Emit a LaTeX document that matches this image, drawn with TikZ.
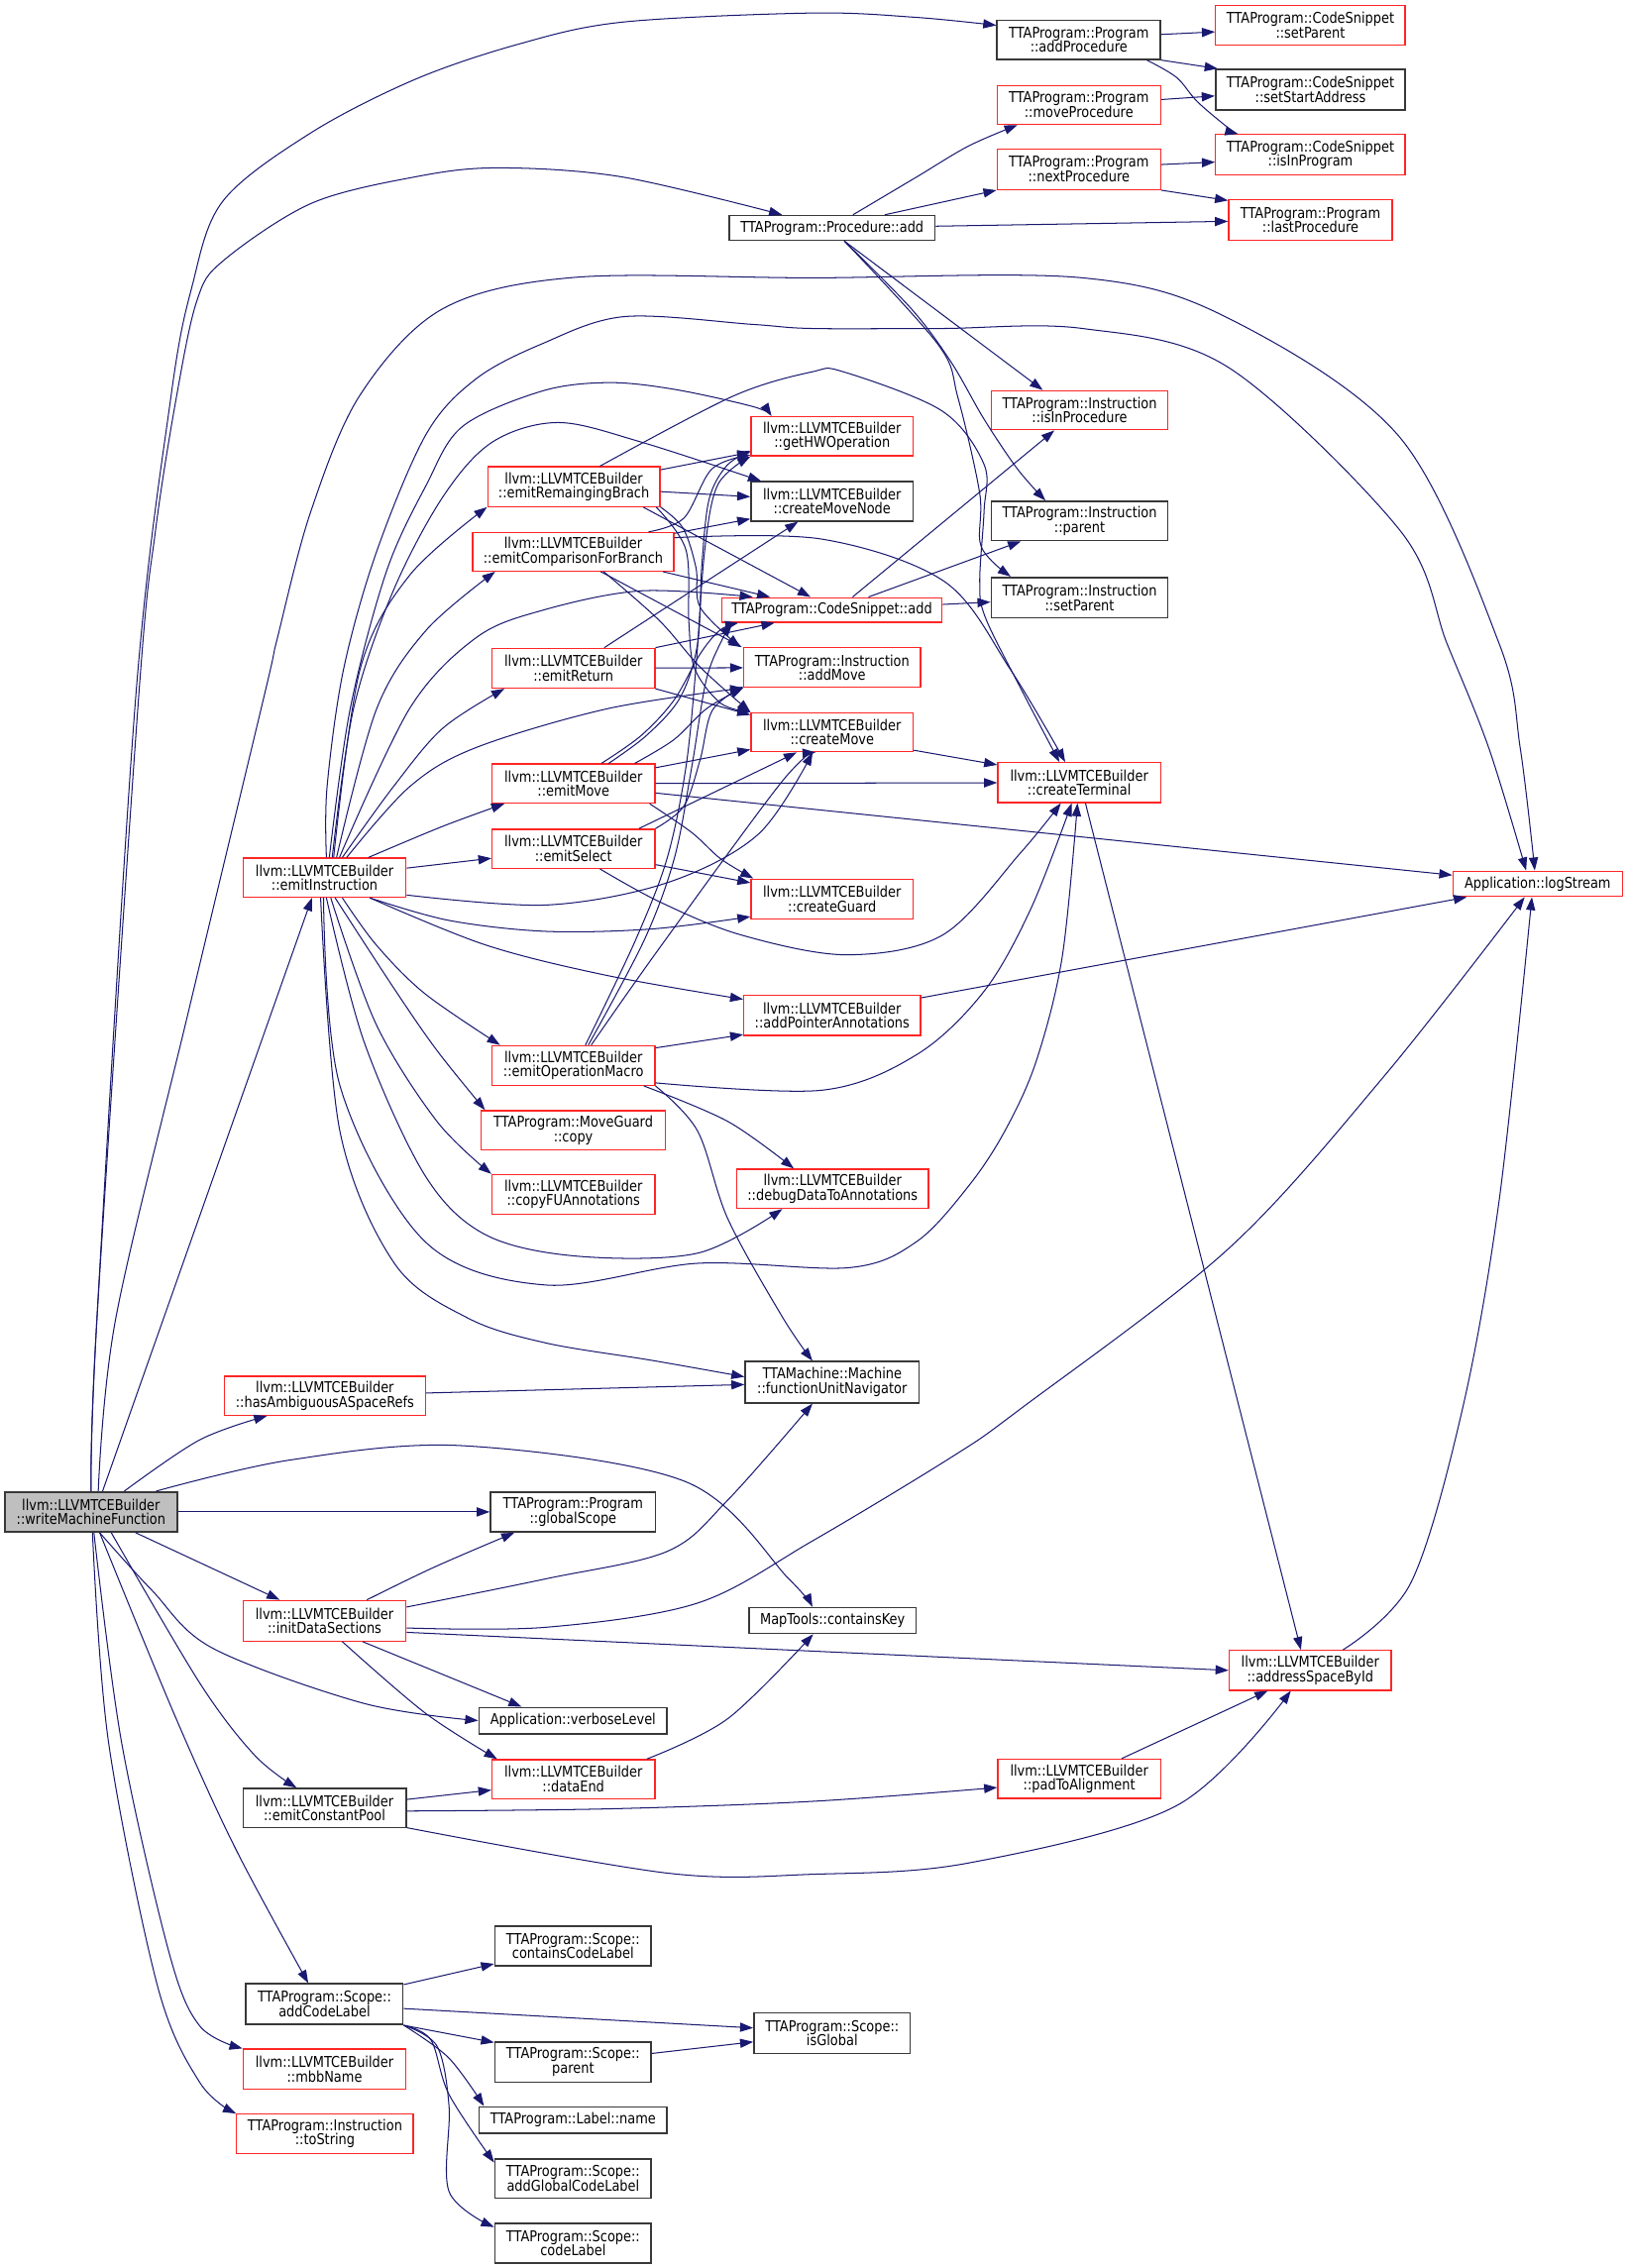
\documentclass[tikz,border=0pt]{standalone}
\usepackage{fontspec}
\newfontfamily\dejafam{DejaVu Sans}[FakeStretch=0.86]
\newcommand\boxfont{\dejafam\fontsize{10.3}{10}\selectfont}
\usetikzlibrary{arrows.meta}
\definecolor{edgeblue}{HTML}{191970}
\definecolor{boxred}{HTML}{FF2626}
\definecolor{boxgray}{HTML}{383838}
\definecolor{wfill}{HTML}{BFBFBF}
\tikzset{
  box/.style={draw, rectangle, inner sep=0pt, align=center, font=\boxfont},
  rbox/.style={box, draw=boxred, line width=0.9pt},
  kbox/.style={box, draw=boxgray, line width=1.15pt},
  wbox/.style={box, draw=boxgray, line width=1.15pt, fill=wfill},
  edg/.style={draw=edgeblue, line width=0.7pt, -{Triangle[length=9pt,width=6.3pt]}},
}
\newcommand\mkbox[7]{\node[#2, minimum width={(#4-#3)*1pt}, minimum height={(#6-#5)*1pt}] (#1) at ({(#3+#4)/2},{(#5+#6)/2}) {#7};}
\newcommand\crv[1]{\draw[edg] plot[smooth, tension=0.55] coordinates {#1};}
\begin{document}
\begin{tikzpicture}[x=1pt,y=-1pt]
\fill[white] (0,0) rectangle (1125,1567.3);
\path[use as bounding box] (0,0) rectangle (1125,1567.3);
% ---------- nodes ----------
\mkbox{nAddProc}{kbox}{689}{802}{14}{41}{TTAProgram::Program\\::addProcedure}
\mkbox{nCSsetParent}{rbox}{840}{971}{4}{31}{TTAProgram::CodeSnippet\\::setParent}
\mkbox{nSetStart}{kbox}{840}{971}{48}{76}{TTAProgram::CodeSnippet\\::setStartAddress}
\mkbox{nIsInProgram}{rbox}{840}{971}{93}{121}{TTAProgram::CodeSnippet\\::isInProgram}
\mkbox{nMoveProc}{rbox}{689}{802}{59}{86}{TTAProgram::Program\\::moveProcedure}
\mkbox{nNextProc}{rbox}{689}{802}{103}{131}{TTAProgram::Program\\::nextProcedure}
\mkbox{nLastProc}{rbox}{849}{962}{138}{166}{TTAProgram::Program\\::lastProcedure}
\mkbox{nProcAdd}{kbox}{504}{646}{149}{166}{TTAProgram::Procedure::add}
\mkbox{nIsInProc}{rbox}{685}{807}{270}{297}{TTAProgram::Instruction\\::isInProcedure}
\mkbox{nInstParent}{kbox}{685}{807}{346.5}{373.5}{TTAProgram::Instruction\\::parent}
\mkbox{nInstSetParent}{kbox}{685}{807}{399}{427}{TTAProgram::Instruction\\::setParent}
\mkbox{nGetHW}{rbox}{519}{631}{288}{315}{llvm::LLVMTCEBuilder\\::getHWOperation}
\mkbox{nCMN}{kbox}{519}{631}{333}{360}{llvm::LLVMTCEBuilder\\::createMoveNode}
\mkbox{nEmitRB}{rbox}{337}{456}{322.6}{350}{llvm::LLVMTCEBuilder\\::emitRemaingingBrach}
\mkbox{nEmitCmp}{rbox}{326.6}{465.6}{368}{394.6}{llvm::LLVMTCEBuilder\\::emitComparisonForBranch}
\mkbox{nCSadd}{rbox}{498.6}{651}{413}{430}{TTAProgram::CodeSnippet::add}
\mkbox{nEmitRet}{rbox}{340}{452.5}{448}{475.5}{llvm::LLVMTCEBuilder\\::emitReturn}
\mkbox{nAddMove}{rbox}{514}{636}{447.6}{475}{TTAProgram::Instruction\\::addMove}
\mkbox{nCreateMove}{rbox}{519}{631}{492.5}{519.5}{llvm::LLVMTCEBuilder\\::createMove}
\mkbox{nEmitMove}{rbox}{340}{452.5}{528}{555}{llvm::LLVMTCEBuilder\\::emitMove}
\mkbox{nEmitSelect}{rbox}{340}{452.5}{573}{600}{llvm::LLVMTCEBuilder\\::emitSelect}
\mkbox{nEI}{rbox}{168}{280.6}{593}{620}{llvm::LLVMTCEBuilder\\::emitInstruction}
\mkbox{nCreateGuard}{rbox}{519}{631}{607.5}{635}{llvm::LLVMTCEBuilder\\::createGuard}
\mkbox{nAddPtr}{rbox}{514}{636}{688}{715.5}{llvm::LLVMTCEBuilder\\::addPointerAnnotations}
\mkbox{nEmitOpMacro}{rbox}{340}{452.5}{722.6}{750}{llvm::LLVMTCEBuilder\\::emitOperationMacro}
\mkbox{nMGcopy}{rbox}{332.6}{459.7}{767.5}{794.6}{TTAProgram::MoveGuard\\::copy}
\mkbox{nCopyFU}{rbox}{340}{452.5}{811.7}{839}{llvm::LLVMTCEBuilder\\::copyFUAnnotations}
\mkbox{nDebugData}{rbox}{509}{641.6}{808}{835}{llvm::LLVMTCEBuilder\\::debugDataToAnnotations}
\mkbox{nCreateTerm}{rbox}{689.5}{802}{527}{554.6}{llvm::LLVMTCEBuilder\\::createTerminal}
\mkbox{nLogStream}{rbox}{1004}{1121}{602}{619.5}{Application::logStream}
\mkbox{nHasAmb}{rbox}{155}{294}{951}{978}{llvm::LLVMTCEBuilder\\::hasAmbiguousASpaceRefs}
\mkbox{nFUN}{kbox}{515}{635}{941}{969.4}{TTAMachine::Machine\\::functionUnitNavigator}
\mkbox{nW}{wbox}{3.4}{122.4}{1031}{1058.6}{llvm::LLVMTCEBuilder\\::writeMachineFunction}
\mkbox{nGlobalScope}{kbox}{339}{453}{1031}{1058.6}{TTAProgram::Program\\::globalScope}
\mkbox{nInitData}{rbox}{168}{280.5}{1106}{1134}{llvm::LLVMTCEBuilder\\::initDataSections}
\mkbox{nContainsKey}{kbox}{517.5}{633}{1111}{1128.7}{MapTools::containsKey}
\mkbox{nAddrSpace}{rbox}{849.4}{961.4}{1140.6}{1168}{llvm::LLVMTCEBuilder\\::addressSpaceById}
\mkbox{nVerbose}{kbox}{331}{461}{1180}{1198}{Application::verboseLevel}
\mkbox{nDataEnd}{rbox}{340}{452.5}{1216}{1243}{llvm::LLVMTCEBuilder\\::dataEnd}
\mkbox{nPad}{rbox}{689.5}{802}{1215.7}{1242.8}{llvm::LLVMTCEBuilder\\::padToAlignment}
\mkbox{nEmitCP}{kbox}{168}{280.5}{1236}{1263}{llvm::LLVMTCEBuilder\\::emitConstantPool}
\mkbox{nCCL}{kbox}{342}{450}{1331}{1358.5}{TTAProgram::Scope::\\containsCodeLabel}
\mkbox{nAddCL}{kbox}{170}{278.4}{1371}{1399}{TTAProgram::Scope::\\addCodeLabel}
\mkbox{nIsGlobal}{kbox}{521}{629}{1391}{1419}{TTAProgram::Scope::\\isGlobal}
\mkbox{nSParent}{kbox}{342}{450}{1411}{1439}{TTAProgram::Scope::\\parent}
\mkbox{nMbb}{rbox}{168}{280.5}{1416}{1443.6}{llvm::LLVMTCEBuilder\\::mbbName}
\mkbox{nLabelName}{kbox}{331}{461}{1456}{1474}{TTAProgram::Label::name}
\mkbox{nToString}{rbox}{163.5}{285.6}{1461}{1488}{TTAProgram::Instruction\\::toString}
\mkbox{nAGCL}{kbox}{342}{450}{1492}{1519}{TTAProgram::Scope::\\addGlobalCodeLabel}
\mkbox{nCodeLabel}{kbox}{342}{450}{1536.6}{1564}{TTAProgram::Scope::\\codeLabel}
% ---------- top cluster ----------
\draw[edg] ([yshift=3.7]nAddProc.east) -- ([yshift=-4.5]nCSsetParent.west);
\draw[edg] (nAddProc.south east) -- ([xshift=2]nSetStart.north west);
\crv{([xshift=-10]nAddProc.south east) (813,53.5) (827.4,70.3) (849,88.6) ([xshift=16]nIsInProgram.north west)}
\draw[edg] ([yshift=3.7]nMoveProc.east) -- ([yshift=-4.3]nSetStart.west);
\draw[edg] ([yshift=3.3]nNextProc.east) -- ([yshift=-5]nIsInProgram.west);
\draw[edg] (nNextProc.south east) -- ([yshift=-1]nLastProc.north west);
\crv{([xshift=86]nProcAdd.north west) (633.4,122.3) (669.3,100.9) ([xshift=14.5]nMoveProc.south west)}
\draw[edg] ([xshift=108]nProcAdd.north west) -- (nNextProc.south west);
\draw[edg] (nProcAdd) -- (nLastProc);
\draw[edg] ([xshift=80]nProcAdd.south west) -- ([xshift=36]nIsInProc.north west);
\crv{([xshift=80]nProcAdd.south west) (630,213.7) (657.4,250.5) (680,289.7) (703,324) ([xshift=38]nInstParent.north west)}
\crv{([xshift=80]nProcAdd.south west) (648.4,238.3) (662,275) (677,341) (678,377.7) ([xshift=14]nInstSetParent.north west)}
\draw[edg] ([xshift=91]nCSadd.north west) -- ([xshift=44]nIsInProc.south west);
\draw[edg] ([xshift=102]nCSadd.north west) -- ([xshift=21]nInstParent.south west);
\draw[edg] (nCSadd) -- (nInstSetParent);
% ---------- emitRemaingingBrach ----------
\draw[edg] (nEmitRB) -- (nGetHW);
\draw[edg] (nEmitRB) -- (nCMN);
\draw[edg] ([xshift=-12]nEmitRB.south east) -- ([xshift=62]nCSadd.north west);
\crv{(nEmitRB.south east) (472,365) (481,392.6) (484,420) ([xshift=-2]nAddMove.north west)}
\crv{([xshift=-3]nEmitRB.south east) (474,380) (476,430) (480,462) (498,486) (nCreateMove.north west)}
\crv{([xshift=78]nEmitRB.north west) (506,274) (561,257) (583,257) (651,284) (680,321) (680,353) (677,402) (681,427) (706,477) ([xshift=43]nCreateTerm.north west)}
% ---------- emitComparisonForBranch ----------
\crv{([xshift=122]nEmitCmp.north west) (472.6,358) (492,324) ([yshift=1]nGetHW.south west)}
\draw[edg] ([yshift=-1]nEmitCmp.north east) -- ([yshift=2]nCMN.south west);
\crv{([yshift=-4]nEmitCmp.north east) (567.6,372.5) (652.8,402) (698.4,463) ([xshift=47]nCreateTerm.north west)}
\draw[edg] ([xshift=-8]nEmitCmp.south east) -- ([xshift=34]nCSadd.north west);
\draw[edg] ([xshift=89]nEmitCmp.south west) -- ([xshift=-1]nAddMove.north west);
\crv{([xshift=91]nEmitCmp.south west) (455.8,429) (483.8,461) (nCreateMove.north west)}
% ---------- emitReturn ----------
\draw[edg] ([xshift=78]nEmitRet.north west) -- ([xshift=33]nCMN.south west);
\draw[edg] (nEmitRet.north east) -- ([xshift=37]nCSadd.south west);
\draw[edg] (nEmitRet) -- (nAddMove);
\draw[edg] (nEmitRet.south east) -- ([yshift=-2]nCreateMove.north west);
% ---------- emitMove ----------
\crv{([xshift=76]nEmitMove.north west) (442.8,508.5) (465.6,484) (484,451.6) (497.6,435.4) ([xshift=12]nCSadd.south west)}
\crv{([xshift=81]nEmitMove.north west) (447,508) (470,482) (482,445) (485,390) (490,345) (502,322) ([yshift=4]nGetHW.south west)}
\crv{([xshift=99]nEmitMove.north west) (465.6,511.2) (488.4,489.6) (nAddMove.south west)}
\draw[edg] ([yshift=-3]nEmitMove.north east) -- ([yshift=2]nCreateMove.south west);
\draw[edg] (nEmitMove) -- (nCreateTerm);
\draw[edg] ([yshift=-6.5]nEmitMove.east) -- ([yshift=6]nLogStream.west);
\crv{([xshift=-4]nEmitMove.south east) (478,575.3) (498,593.5) ([xshift=2]nCreateGuard.north west)}
% ---------- emitSelect ----------
\draw[edg] ([xshift=102]nEmitSelect.north west) -- ([xshift=32]nCreateMove.south west);
\crv{(nEmitSelect.north east) (472.6,557) (483.8,525) (492.3,490.8) ([yshift=1]nAddMove.south west)}
\draw[edg] ([yshift=-11]nEmitSelect.east) -- ([yshift=-3]nCreateGuard.north west);
\crv{([xshift=75]nEmitSelect.south west) (456,623.3) (511.8,646) (584.6,659.8) (651.6,646) (705.5,589) ([xshift=44]nCreateTerm.south west)}
% ---------- emitOperationMacro ----------
\crv{([xshift=65]nEmitOpMacro.north west) (439,650) (461,593) (474,530) (481,460) (487,380) (496,335) (nGetHW.south west)}
\crv{([xshift=67]nEmitOpMacro.north west) (445,650) (466,593) (478,530) (488,470) (499,442) ([xshift=8]nCSadd.south west)}
\crv{([xshift=69]nEmitOpMacro.north west) (455.8,655) (539.6,541) ([xshift=45]nCreateMove.south west)}
\draw[edg] ([yshift=-2]nEmitOpMacro.north east) -- ([yshift=1]nAddPtr.south west);
\crv{([yshift=-12]nEmitOpMacro.east) (567.8,753.4) (633.6,728.7) (680,685) (712.5,627.6) ([xshift=51.5]nCreateTerm.south west)}
\crv{([xshift=-8]nEmitOpMacro.south east) (503,775) ([xshift=40]nDebugData.north west)}
\crv{(nEmitOpMacro.south east) (482,781.5) (503,842.4) (541,910.7) ([xshift=47]nFUN.north west)}
% ---------- other middle ----------
\draw[edg] ([yshift=1.5]nCreateMove.south east) -- ([yshift=-2]nCreateTerm.north west);
\draw[edg] ([yshift=-2]nAddPtr.north east) -- ([xshift=10]nLogStream.south west);
\draw[edg] ([xshift=61]nCreateTerm.south west) -- ([xshift=50]nAddrSpace.north west);
\crv{([xshift=79]nAddrSpace.north west) (975,1093.6) (1010.6,973.5) (1036,829) ([xshift=55]nLogStream.south west)}
% ---------- emitInstruction ----------
\crv{([xshift=58]nEI.north west) (226,543.7) (237.4,462.5) (260.2,381.3) (294.5,300) (328.7,262) (374.3,237.7) (431.4,218.8) (520.4,224.2) (561,227) (650,227) (748,227) (849,254) (967.6,366.8) (1000,445) (1028.8,517) ([xshift=51]nLogStream.north west)}
\crv{([xshift=60]nEI.north west) (242,489.7) (267,395) (294.5,335.3) (319.6,294.7) (374.4,270.3) (420,264.4) (465.6,269) (520.4,281) ([xshift=14.6]nGetHW.north west)}
\crv{([xshift=62]nEI.north west) (244.3,489.7) (271.7,408.4) (306,343.4) (340.2,305.5) (385.7,292) (442.8,305.4) ([xshift=7.5]nCMN.north west)}
\crv{([xshift=63]nEI.north west) (248.8,462.6) (283,397.6) (nEmitRB.south west)}
\crv{([xshift=65]nEI.north west) (260.3,489.7) (294.5,435.5) ([xshift=16]nEmitCmp.south west)}
\crv{([xshift=67]nEI.north west) (283,489.7) (328.7,440.9) (374.3,421.9) (442.8,408.3) ([xshift=22]nCSadd.north west)}
\crv{([xshift=69]nEI.north west) (271.7,543.8) (306,503.2) ([xshift=9]nEmitRet.south west)}
\crv{([xshift=72]nEI.north west) (283,543.7) (328.7,516.7) (420,489.7) (nAddMove.south west)}
\crv{([xshift=87]nEI.north west) (306,571) ([xshift=9]nEmitMove.south west)}
\draw[edg] (nEI) -- (nEmitSelect);
\crv{([yshift=-12]nEI.east) (377.4,625.4) (461,610) (524,576.5) ([xshift=43]nCreateMove.south west)}
\crv{([xshift=88]nEI.south west) (310,636) (377,643.6) (450,642) ([yshift=2]nCreateGuard.south west)}
\crv{([xshift=88]nEI.south west) (335.5,653) (419,674) ([yshift=-3]nAddPtr.north west)}
\crv{([xshift=69]nEI.south west) (260,653) (293.5,686.6) ([xshift=6]nEmitOpMacro.north west)}
\crv{([xshift=64]nEI.south west) (272.5,683.4) (302,726) ([xshift=3]nMGcopy.north west)}
\crv{([xshift=61]nEI.south west) (260,708) (302,775) (nCopyFU.north west)}
\crv{([xshift=58]nEI.south west) (251.6,720) (293.5,812) (335,853) (398,868) (482,866) ([xshift=32]nDebugData.south west)}
\crv{([xshift=56]nEI.south west) (235,750.6) (293.5,857.8) (377,888) (482,873) (587,876) (633.4,858) (669.3,819.6) (694.5,781.3) (716,733.4) (734,661.2) ([xshift=55.5]nCreateTerm.south west)}
\crv{([xshift=54]nEI.south west) (234.8,781.3) (272.5,873) (323,910.7) (377,928) (450,940) ([yshift=-11]nFUN.north west)}
% ---------- writeMachineFunction ----------
\crv{(nW.north) (67,911) (94,479) (118,275) (132.5,198.7) (154,139) (215,91.7) (286.5,55) (358,30.6) (430,15.3) (561,9) (633,12) ([yshift=10]nAddProc.west)}
\crv{(nW.north) (67,911) (96,479) (107.4,367) (121.8,275) (136,208) (154,180.4) (215,140.6) (286.5,122.3) (344,116) (430,122.3) ([xshift=37]nProcAdd.north west)}
\crv{([xshift=5]nW.north) (80,911) (130,700) (183,479) (191.7,440.8) (214.6,354) (248.8,273) (305.9,213.4) (397,191.7) (560,192) (748,192) (849,220) (967.6,302.6) (1036,445) (1050.5,517) ([xshift=57]nLogStream.north west)}
\draw[edg] ([xshift=8]nW.north) -- ([xshift=48]nEI.south west);
\crv{([xshift=23]nW.north) (138,995) ([xshift=30]nHasAmb.south west)}
\crv{([xshift=45]nW.north) (200,1009) (319,999) (474,1024) (545,1091) ([xshift=44.5]nContainsKey.north west)}
\draw[edg] (nW) -- (nGlobalScope);
\draw[edg] (nW) -- (nInitData);
\crv{([xshift=6]nW.south) (105,1099) (147,1139) (251,1177) (nVerbose.west)}
\crv{([xshift=14]nW.south) (138,1163) (176,1213) ([xshift=37.5]nEmitCP.north west)}
\crv{([xshift=6]nW.south) (121,1186) (163,1278) ([xshift=43.6]nAddCL.north west)}
\crv{([xshift=2]nW.south) (84,1204) (117,1350) (138,1400) (nMbb.north west)}
\crv{([xshift=1]nW.south) (75,1204) (109,1373) (138,1439) (nToString.north west)}
% ---------- lower ----------
\draw[edg] (nHasAmb) -- (nFUN);
\crv{([xshift=86]nInitData.north west) (300,1083) ([xshift=17]nGlobalScope.south west)}
\crv{([yshift=-5]nInitData.north east) (377.4,1091) (461.2,1072) (503,1036.5) ([xshift=47]nFUN.south west)}
\crv{([yshift=-5]nInitData.east) (377.4,1124.5) (482,1107.8) (561.5,1064.8) (657.4,1007) (705.3,973.5) (849,862.8) (957,743) ([xshift=50]nLogStream.south west)}
\draw[edg] ([yshift=-8]nInitData.east) -- (nAddrSpace.west);
\draw[edg] ([xshift=83]nInitData.south west) -- ([xshift=30]nVerbose.north west);
\crv{([xshift=69]nInitData.south west) (293.6,1183.6) ([xshift=4]nDataEnd.north west)}
\crv{([xshift=-6]nDataEnd.north east) (503,1187.6) ([xshift=45]nContainsKey.south west)}
\draw[edg] ([yshift=6]nEmitCP.east) -- ([yshift=-7.5]nDataEnd.west);
\crv{([yshift=-2]nEmitCP.east) (420,1250) (561.5,1244.8) ([yshift=-6]nPad.west)}
\crv{([yshift=-13.5]nEmitCP.east) (461.2,1294.4) (561.5,1295.2) (669.3,1287.4) (813,1247.8) ([xshift=43]nAddrSpace.south west)}
\draw[edg] ([xshift=86]nPad.north west) -- ([xshift=27]nAddrSpace.south west);
\draw[edg] ([yshift=-1]nAddCL.north east) -- ([yshift=2]nCCL.south west);
\draw[edg] ([yshift=-3]nAddCL.east) -- ([yshift=3.6]nIsGlobal.west);
\draw[edg] (nAddCL.south east) -- ([yshift=-1]nSParent.north west);
\crv{(nAddCL.south east) (310,1422) ([xshift=4]nLabelName.north west)}
\crv{(nAddCL.south east) (297.7,1409.6) (310.3,1447.4) ([yshift=-3]nAGCL.north west)}
\crv{(nAddCL.south east) (302,1414) (310.3,1455.7) (310.3,1514.5) ([yshift=-3]nCodeLabel.north west)}
\draw[edg] ([yshift=6]nSParent.east) -- ([yshift=-6]nIsGlobal.west);
\end{tikzpicture}
\end{document}
